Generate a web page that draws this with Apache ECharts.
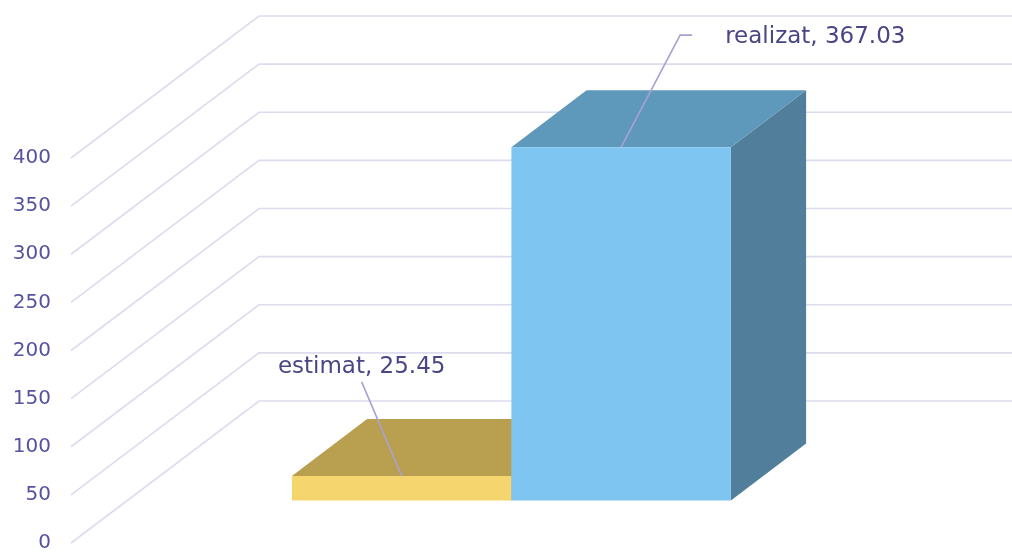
<!DOCTYPE html>
<html>
<head>
<meta charset="utf-8">
<script src="https://cdn.jsdelivr.net/npm/echarts@6/dist/echarts.min.js"></script>
<style>html,body{margin:0;padding:0;background:#fff;}#c{width:1012px;height:553px;}</style>
</head>
<body>
<div id="c"></div>
<script>
// ---- data ----
var categories = ['estimat', 'realizat'];
var values = [25.45, 367.03];
var yTicks = [0, 50, 100, 150, 200, 250, 300, 350, 400];

// ---- styles / layout ----
var faceColors = [
  { front: '#F5D56D', top: '#B9A050', side: '#9E8840' },
  { front: '#7EC6F1', top: '#5E98BA', side: '#507E9B' }
];
var labelLayout = [
  { elbow: [-40, -94], tail: 0, text: [-40, -109], align: 'center' },
  { elbow: [59, -112], tail: 12, text: [104, -110], align: 'left' }
];
var DEPTH_X = 188, DEPTH_Y = -142;   // full floor depth
var FRONT_LEFT = 71;                 // front edge of the gridlines
var BAR_FRONT = 0.3, BAR_DEPTH = 0.4;

var chart = echarts.init(document.getElementById('c'));

var barData = categories.map(function (c, i) { return { name: c, value: [i, values[i]] }; });

chart.setOption({
  animation: false,
  backgroundColor: '#ffffff',
  grid: { left: 235.5, right: 337.5, top: 158, bottom: 7, containLabel: false },
  xAxis: {
    type: 'category', data: categories, show: false
  },
  yAxis: {
    type: 'value', min: 0, max: 400, interval: 50,
    axisLine: { show: false }, axisTick: { show: false }, splitLine: { show: false },
    axisLabel: { margin: 184.5, color: '#5752A0', fontSize: 20, fontFamily: 'DejaVu Sans' }
  },
  series: [
    {
      type: 'custom', z: 1, silent: true,
      data: yTicks.map(function (t) { return [0, t]; }),
      renderItem: function (params, api) {
        var y = api.coord([0, api.value(1)])[1];
        return {
          type: 'polyline',
          shape: { points: [[FRONT_LEFT, y], [FRONT_LEFT + DEPTH_X, y + DEPTH_Y], [1012, y + DEPTH_Y]] },
          style: { stroke: '#DCDCEE', lineWidth: 1.6, fill: null }
        };
      }
    },
    {
      type: 'custom', z: 2, silent: true,
      data: barData,
      renderItem: function (params, api) {
        var i = api.value(0), v = api.value(1);
        var top = api.coord([i, v]), base = api.coord([i, 0]);
        var w = api.size([1, 0])[0];
        var ox = BAR_FRONT * DEPTH_X, oy = BAR_FRONT * DEPTH_Y;
        var dx = BAR_DEPTH * DEPTH_X, dy = BAR_DEPTH * DEPTH_Y;
        var x0 = top[0] - w / 2 + ox, x1 = x0 + w;
        var yt = top[1] + oy, yb = base[1] + oy;
        var col = faceColors[i];
        var L = labelLayout[i];
        var ax = (x0 + x1) / 2, ay = yt;
        var ex = ax + L.elbow[0], ey = ay + L.elbow[1];
        return {
          type: 'group',
          children: [
            { type: 'polygon', shape: { points: [[x1, yt], [x1 + dx, yt + dy], [x1 + dx, yb + dy], [x1, yb]] }, style: { fill: col.side } },
            { type: 'polygon', shape: { points: [[x0, yt], [x1, yt], [x1 + dx, yt + dy], [x0 + dx, yt + dy]] }, style: { fill: col.top } },
            { type: 'rect', shape: { x: x0, y: yt, width: w, height: yb - yt }, style: { fill: col.front } },
            { type: 'polyline', shape: { points: [[ax, ay], [ex, ey], [ex + L.tail, ey]] }, style: { stroke: '#A9A1D2', lineWidth: 1.6, fill: null } },
            { type: 'text', x: ax + L.text[0], y: ay + L.text[1],
              style: { text: categories[i] + ', ' + values[i].toFixed(2), fill: '#4A4585', fontSize: 23, fontFamily: 'DejaVu Sans', align: L.align, verticalAlign: 'middle' } }
          ]
        };
      }
    }
  ]
});
</script>
</body>
</html>
